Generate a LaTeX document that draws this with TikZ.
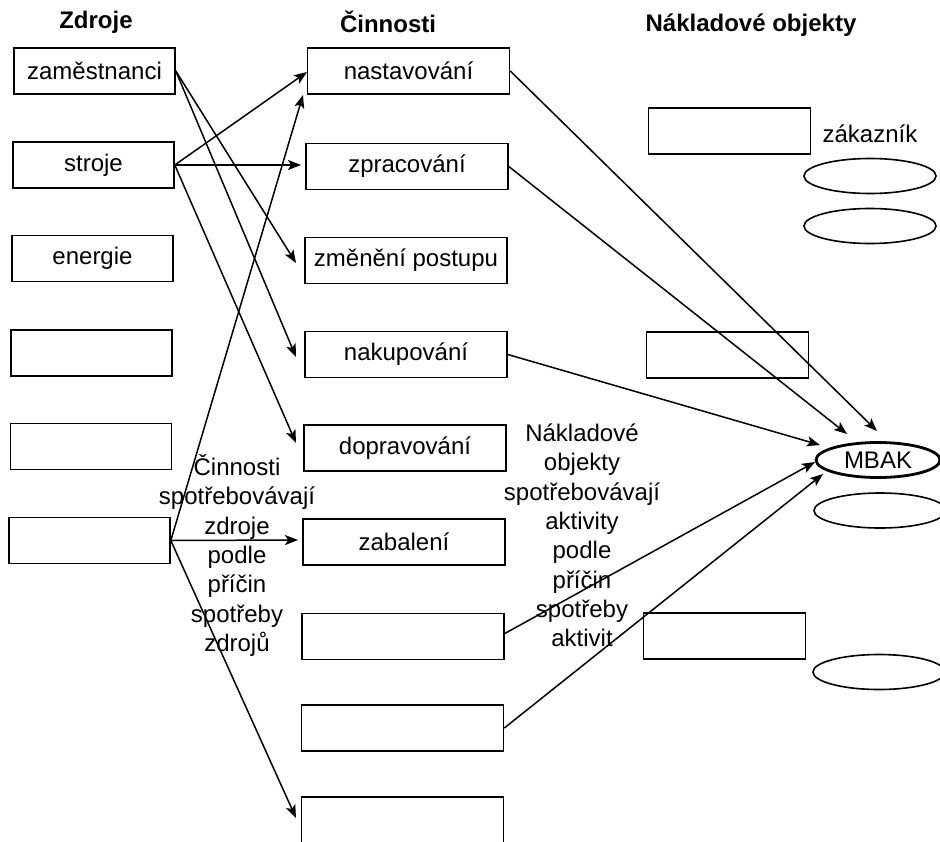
\documentclass[tikz,border=0pt]{standalone}
\usepackage{fontspec}
\setmainfont{Liberation Sans}
\usetikzlibrary{arrows.meta,shapes.geometric}
\begin{document}
\begin{tikzpicture}[x=1pt,y=-1pt,
  txt/.style={font=\fontsize{24}{29.3}\selectfont, inner sep=0pt},
  head/.style={font=\fontsize{24}{29}\selectfont\bfseries, inner sep=0pt},
  srcbox/.style={draw, line width=1.6pt, minimum width=161pt, minimum height=46pt, inner sep=0pt, font=\fontsize{24}{29}\selectfont},
  actbox/.style={draw, line width=1.6pt, minimum width=202pt, minimum height=46pt, inner sep=0pt, font=\fontsize{24}{29}\selectfont},
  objbox/.style={draw, line width=1.6pt, minimum width=162pt, minimum height=46pt, inner sep=0pt},
  oval/.style={draw, ellipse, line width=1.6pt, minimum width=132pt, minimum height=35pt, inner sep=0pt},
  conn/.style={line width=1.5pt, -{Stealth[length=13pt,width=10pt,inset=3pt]}}
]
\useasboundingbox (0,0) rectangle (940,841);
\fill[white] (0,0) rectangle (940,841);

% headings
\node[head] (hz) at (96,22) {Zdroje};
\node[head] (hc) at (388,22) {Činnosti};
\node[head] (hn) at (751,25) {Nákladové objekty};

% resources
\node[srcbox] (z1) at (94.5,71) {zaměstnanci};
\node[srcbox] (z2) at (93.5,165) {stroje};
\node[srcbox] (z3) at (92.5,258.5) {energie};
\node[srcbox] (z4) at (91.5,353) {};
\node[srcbox] (z5) at (91,446.5) {};
\node[srcbox] (z6) at (89.5,540.5) {};

% activities
\node[actbox] (c1) at (408.5,71) {nastavování};
\node[actbox] (c2) at (407,166.5) {zpracování};
\node[actbox] (c3) at (406,260.5) {změnění postupu};
\node[actbox] (c4) at (406,354.5) {nakupování};
\node[actbox] (c5) at (405,448) {dopravování};
\node[actbox] (c6) at (404,542) {zabalení};
\node[actbox] (c7) at (403,636.5) {};
\node[actbox] (c8) at (402.5,728) {};
\node[actbox] (c9) at (402.5,820) {};

% cost objects
\node[objbox] (n1) at (729.5,131) {};
\node[objbox] (n2) at (727.5,355) {};
\node[objbox] (n3) at (724.5,636) {};
\node[txt] (zak) at (870,134) {zákazník};
\node[oval] (e1) at (870,176) {};
\node[oval] (e2) at (870,226) {};
\node[oval, line width=2.8pt, minimum width=124pt, font=\fontsize{24}{29}\selectfont] (mbak) at (878,460) {MBAK};
\node[oval] (e3) at (880,510.5) {};
\node[oval] (e4) at (879,672) {};

% explanatory texts
\node[txt, align=center] (t1) at (237,555.5) {Činnosti\\spotřebovávají\\zdroje\\podle\\příčin\\spotřeby\\zdrojů};
\node[txt, align=center] (t2) at (582,535.5) {Nákladové\\objekty\\spotřebovávají\\aktivity\\podle\\příčin\\spotřeby\\aktivit};

% arrow tip coordinates
\coordinate (p13) at (296,263);
\coordinate (p14) at (296,357);
\coordinate (p21) at (307,72);
\coordinate (p22) at (301,165);
\coordinate (p25) at (296,443);
\coordinate (p61) at (303,95);
\coordinate (p66) at (298,540);
\coordinate (p69) at (296,818);
\coordinate (m1) at (877,431);
\coordinate (m2) at (847,434);
\coordinate (m4) at (820,445);
\coordinate (m7) at (815,462);
\coordinate (m8) at (823,474);

% resources -> activities
\draw[conn] (z1.east) -- (p13);
\draw[conn] (z1.east) -- (p14);
\draw[conn] (z2.east) -- (p21);
\draw[conn] (z2.east) -- (p22);
\draw[conn] (z2.east) -- (p25);
\draw[conn] (z6.east) -- (p61);
\draw[conn] (z6.east) -- (p66);
\draw[conn] (z6.east) -- (p69);

% activities -> MBAK
\draw[conn] (c1.east) -- (m1);
\draw[conn] (c2.east) -- (m2);
\draw[conn] (c4.east) -- (m4);
\draw[conn] ([yshift=3pt]c7.east) -- (m7);
\draw[conn] (c8.east) -- (m8);
\end{tikzpicture}
\end{document}
